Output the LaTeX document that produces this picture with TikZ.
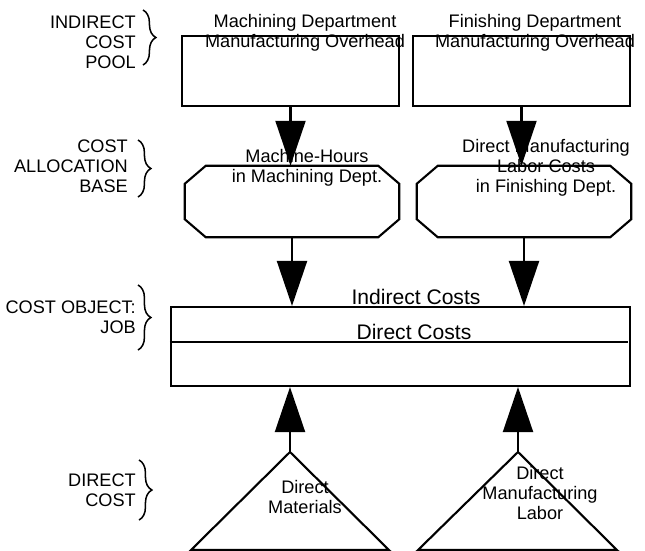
\documentclass[tikz,border=0pt]{standalone}
\usepackage{fontspec}
\setmainfont{Liberation Sans}
\usetikzlibrary{arrows.meta,decorations.pathreplacing,calc}

% chamfer of the allocation base boxes
\def\chx{0.63cm}
\def\chy{0.54cm}
\newcommand{\octobox}[1]{%
  \draw[outline] ([xshift=\chx]#1.north west) -- ([xshift=-\chx]#1.north east)
    -- ([yshift=-\chy]#1.north east) -- ([yshift=\chy]#1.south east)
    -- ([xshift=-\chx]#1.south east) -- ([xshift=\chx]#1.south west)
    -- ([yshift=\chy]#1.south west) -- ([yshift=-\chy]#1.north west) -- cycle;}

\begin{document}
\begin{tikzpicture}[
    x=0.03cm, y=-0.03cm,
    every node/.style={font=\fontsize{15.5}{17}\selectfont, inner sep=0pt},
    outline/.style={line width=1.8pt, line join=miter},
    poolbox/.style={draw, outline, minimum width=6.51cm, minimum height=2.1cm},
    basebox/.style={minimum width=6.42cm, minimum height=2.13cm},
    jobbox/.style={draw, outline, minimum width=13.77cm, minimum height=2.37cm},
    flow/.style={line width=1.8pt, -{Triangle[length=1.35cm, width=0.9cm]}},
    side/.style={align=right, anchor=east},
    sidebrace/.style={decorate, decoration={brace, amplitude=11pt}, line width=1.3pt}
]

\useasboundingbox (0,0) rectangle (645,550);

% Indirect cost pools
\node[poolbox] (mach) at (290.5,71) {};
\node[poolbox] (fin) at (521.5,71) {};
\node[align=center] (machTxt) at (305,33) {Machining Department\\Manufacturing Overhead};
\node[align=center] (finTxt) at (535,33) {Finishing Department\\Manufacturing Overhead};

% Cost allocation bases
\node[basebox] (mhrs) at (292,201.5) {};
\node[basebox] (dml) at (524,201.5) {};
\octobox{mhrs}
\octobox{dml}
\node[align=center] (mhrsTxt) at (307,168) {Machine-Hours\\in Machining Dept.};
\node[align=center] (dmlTxt) at (546,167.5) {Direct Manufacturing\\Labor Costs\\in Finishing Dept.};

% Cost object: job
\node[jobbox] (job) at (400.5,346.5) {};
\draw[line width=1.3pt] ([yshift=0.135cm]job.west) -- ([yshift=0.135cm, xshift=-0.08cm]job.east);
\node[font=\fontsize{18}{20}\selectfont] (indTxt) at (416,297) {Indirect Costs};
\node[font=\fontsize{18}{20}\selectfont] (dirTxt) at (414,332) {Direct Costs};

% Direct costs
\coordinate (dmat) at (290,452);
\coordinate (dlab) at (518,452);
\draw[outline] (dmat) -- (191,550) -- (389,550) -- cycle;
\draw[outline] (dlab) -- (418,550) -- (617,550) -- cycle;
\node[align=center] (dmatTxt) at (305,497) {Direct\\Materials};
\node[align=center] (dlabTxt) at (540,493) {Direct\\Manufacturing\\Labor};

% Arrows
\draw[flow] (mach.south) -- (mach.south |- mhrs.north);
\draw[flow] (fin.south) -- (fin.south |- dml.north);
\draw[flow] (mhrs.south) -- (mhrs.south |- job.north);
\draw[flow] (dml.south) -- (dml.south |- job.north);
\draw[flow] (dmat) -- (dmat |- job.south);
\draw[flow] (dlab) -- (dlab |- job.south);

% Labels on the left
\node[side] (poolLbl) at (136,42) {INDIRECT\\COST\\POOL};
\draw[sidebrace] (143,10) -- (143,65);
\node[side] (baseLbl) at (128,166) {COST\\ALLOCATION\\BASE};
\draw[sidebrace] (138,140) -- (138,197);
\node[side] (jobLbl) at (136,317) {COST OBJECT:\\JOB};
\draw[sidebrace] (138,285) -- (138,350);
\node[side] (dirLbl) at (136,490) {DIRECT\\COST};
\draw[sidebrace] (139,460) -- (139,520);

\end{tikzpicture}
\end{document}
